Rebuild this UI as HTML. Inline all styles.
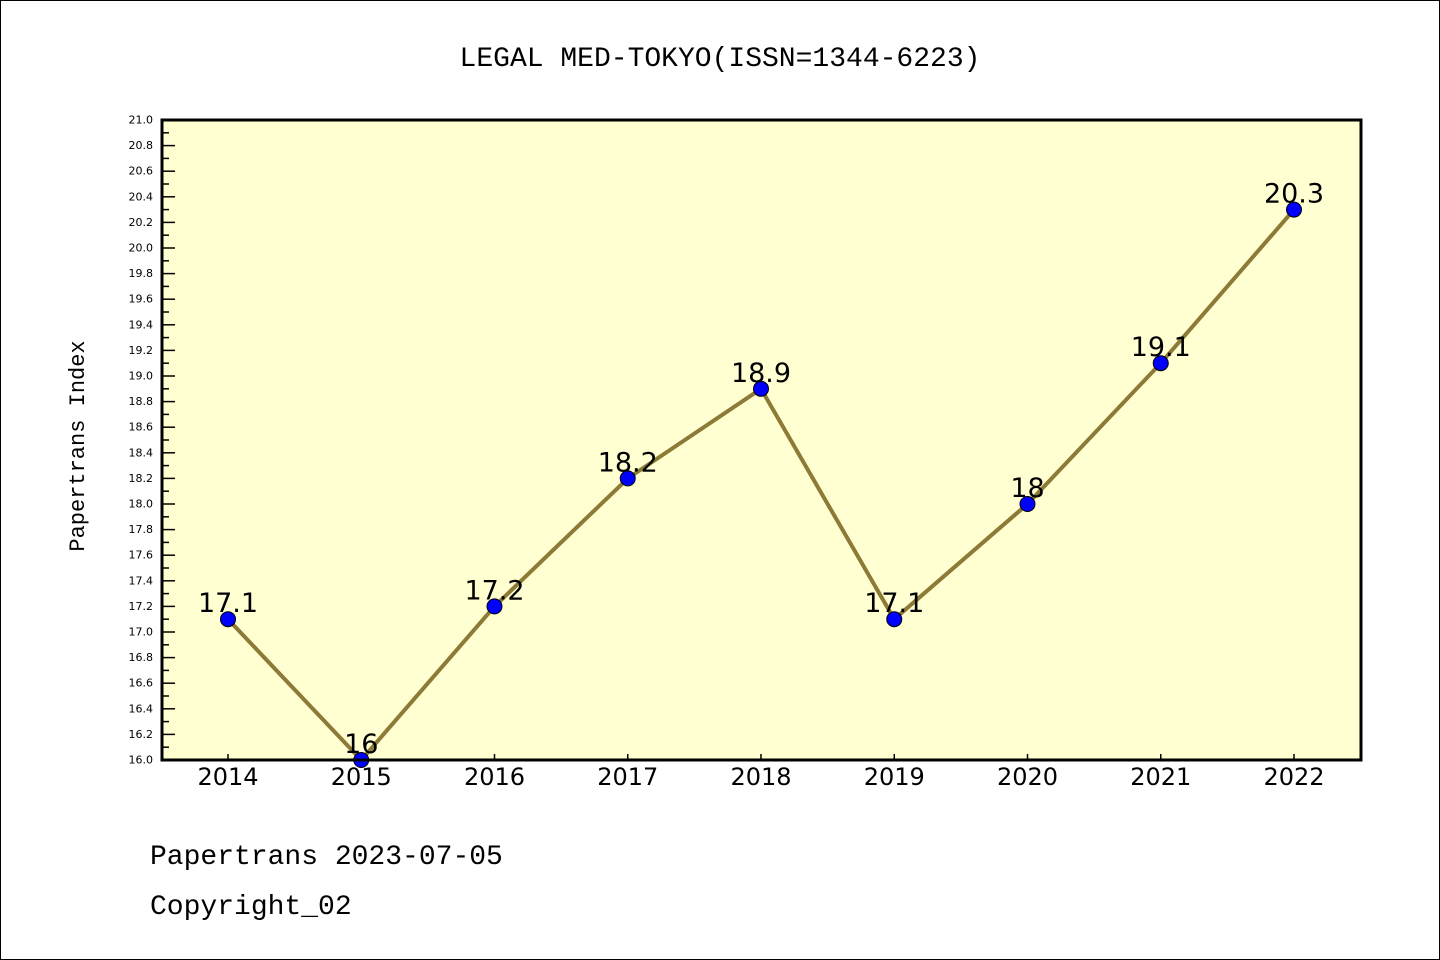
<!DOCTYPE html>
<html><head><meta charset="utf-8"><style>
body{margin:0;background:#fff}
svg{display:block;font-family:"Liberation Mono","DejaVu Sans Mono",monospace}
</style></head><body>
<svg id="c" width="1440" height="960">
<rect x="0.5" y="0.5" width="1439" height="959" fill="#fff" stroke="#000"/>
<text x="720" y="66" font-size="28" text-anchor="middle">LEGAL MED-TOKYO(ISSN=1344-6223)</text>
<rect x="162" y="120" width="1199" height="640" fill="#ffffd2"/>
<g id="ticks"></g>
<g id="series"></g>
<rect x="162" y="120" width="1199" height="640" fill="none" stroke="#000" stroke-width="3"/>
<text transform="translate(84,446) rotate(-90)" font-size="22" text-anchor="middle">Papertrans Index</text>
<text x="150" y="864" font-size="28">Papertrans 2023-07-05</text>
<text x="150" y="914" font-size="28">Copyright_02</text>
</svg>
<script>
const years=[2014,2015,2016,2017,2018,2019,2020,2021,2022];
const values=[17.1,16,17.2,18.2,18.9,17.1,18,19.1,20.3];
const valueLabels=["17.1","16","17.2","18.2","18.9","17.1","18","19.1","20.3"];
const yMin=16,yMax=21;
const NS="http://www.w3.org/2000/svg";
const x=i=>228+i*(1294-228)/(years.length-1);
const y=v=>760-(v-yMin)/(yMax-yMin)*640;
function mk(t,a,p){const e=document.createElementNS(NS,t);for(const k in a)e.setAttribute(k,a[k]);p.appendChild(e);return e;}
const tg=document.getElementById('ticks'),sg=document.getElementById('series');
for(let k=0;k<=50;k++){const v=yMin+k*0.1,yy=y(v),maj=k%2==0;
const l=mk('line',{x1:162,x2:162+(maj?13:7),y1:yy,y2:yy,stroke:'#000','stroke-width':1.5},tg);


if(maj){const t=mk('text',{x:153,y:yy+3.5,'font-size':11,'text-anchor':'end','font-family':'DejaVu Sans, sans-serif'},tg);t.textContent=v.toFixed(1);

}}
years.forEach((yr,i)=>{const xx=x(i);
const l=mk('line',{x1:xx,x2:xx,y1:760,y2:754,stroke:'#000','stroke-width':1.5},tg);


const t=mk('text',{x:xx,y:785,'font-size':24,'text-anchor':'middle','font-family':'DejaVu Sans, sans-serif'},tg);t.textContent=yr;

});
const pl=mk('polyline',{points:values.map((v,i)=>x(i)+','+y(v)).join(' '),fill:'none',stroke:'#8c7a36','stroke-width':4,'stroke-linejoin':'round'},sg);


values.forEach((v,i)=>{
const c=mk('circle',{cx:x(i),cy:y(v),r:7.5,fill:'#0000ff',stroke:'#000','stroke-width':1},sg);


const t=mk('text',{x:x(i),y:y(v)-7,'font-size':27,'text-anchor':'middle','font-family':'DejaVu Sans, sans-serif'},sg);t.textContent=valueLabels[i];

});
</script>
</body></html>
